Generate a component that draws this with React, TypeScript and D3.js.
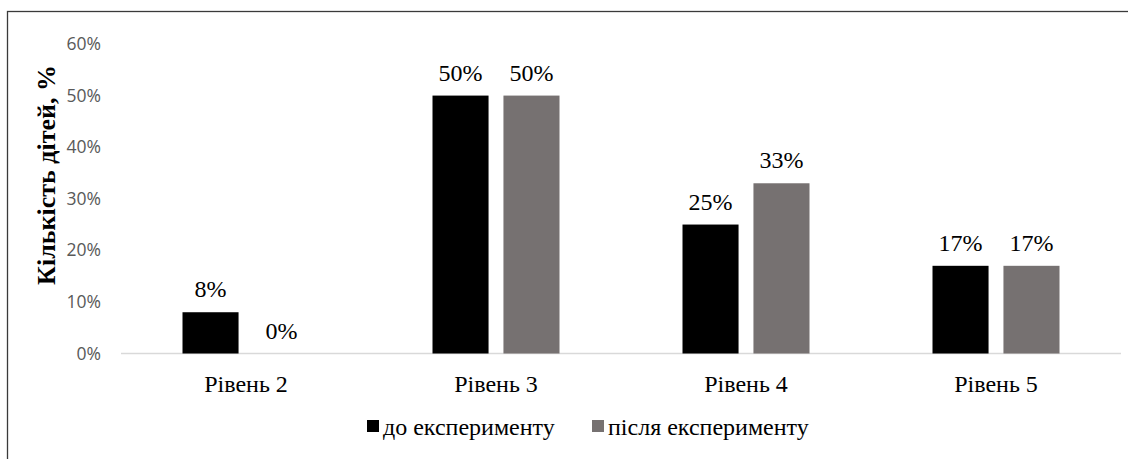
import React from 'react';
import * as d3 from 'd3';

const categories = ['Рівень 2', 'Рівень 3', 'Рівень 4', 'Рівень 5'];
const seriesNames = ['до експерименту', 'після експерименту'];
const beforeValues = [8, 50, 25, 17];
const afterValues = [0, 50, 33, 17];
const yTicks = [0, 10, 20, 30, 40, 50, 60];
const colors = ['#000000', '#767171'];

const W = 1128;
const H = 459;

export default function App() {
  const x = d3.scaleBand<string>().domain(categories).range([121, 1121]);
  const inner = d3.scaleBand<string>().domain(seriesNames).range([0, 127]).paddingInner(0.21);
  const y = d3.scaleLinear().domain([0, 60]).range([353.5, 44]);
  const series = [beforeValues, afterValues];
  const serif = { fontFamily: "'Liberation Serif', 'Times New Roman', serif" };
  const sans = { fontFamily: "'Open Sans', 'Liberation Sans', sans-serif" };

  return (
    <svg width={W} height={H} style={{ position: 'fixed', left: 0, top: 0, background: '#fff' }}>
      <rect x={7.5} y={11.5} width={W} height={H} fill="#fff" stroke="#3a3a3a" strokeWidth={1.3} />

      {yTicks.map(t => (
        <text key={t} x={101} y={y(t)} dy="0.35em" textAnchor="end" style={sans} fontSize={17.5} fill="#595959">
          {t}%
        </text>
      ))}

      <text
        transform={`translate(55,175) rotate(-90)`}
        textAnchor="middle"
        style={serif}
        fontWeight="bold"
        fontSize={26}
        fill="#000"
      >
        Кількість дітей, %
      </text>

      <line x1={121} x2={1121} y1={y(0)} y2={y(0)} stroke="#d9d9d9" strokeWidth={1.5} />

      {categories.map((c, i) => {
        const start = (x(c) ?? 0) + (x.bandwidth() - 127) / 2;
        return (
          <g key={c}>
            {series.map((vals, s) => {
              const bx = start + (inner(seriesNames[s]) ?? 0);
              const v = vals[i];
              return (
                <g key={s}>
                  {v > 0 && (
                    <rect x={bx} y={y(v)} width={inner.bandwidth()} height={y(0) - y(v)} fill={colors[s]} />
                  )}
                  <text
                    x={bx + inner.bandwidth() / 2}
                    y={y(v) - 15}
                    textAnchor="middle"
                    style={serif}
                    fontSize={24}
                    fill="#000"
                  >
                    {v}%
                  </text>
                </g>
              );
            })}
            <text
              x={(x(c) ?? 0) + x.bandwidth() / 2}
              y={392}
              textAnchor="middle"
              style={serif}
              fontSize={24}
              fill="#000"
            >
              {c}
            </text>
          </g>
        );
      })}

      {seriesNames.map((n, s) => {
        const lx = s === 0 ? 367 : 592;
        return (
          <g key={n}>
            <rect x={lx} y={420} width={12} height={12} fill={colors[s]} />
            <text x={lx + 16} y={435} style={serif} fontSize={24} fill="#000">
              {n}
            </text>
          </g>
        );
      })}
    </svg>
  );
}
